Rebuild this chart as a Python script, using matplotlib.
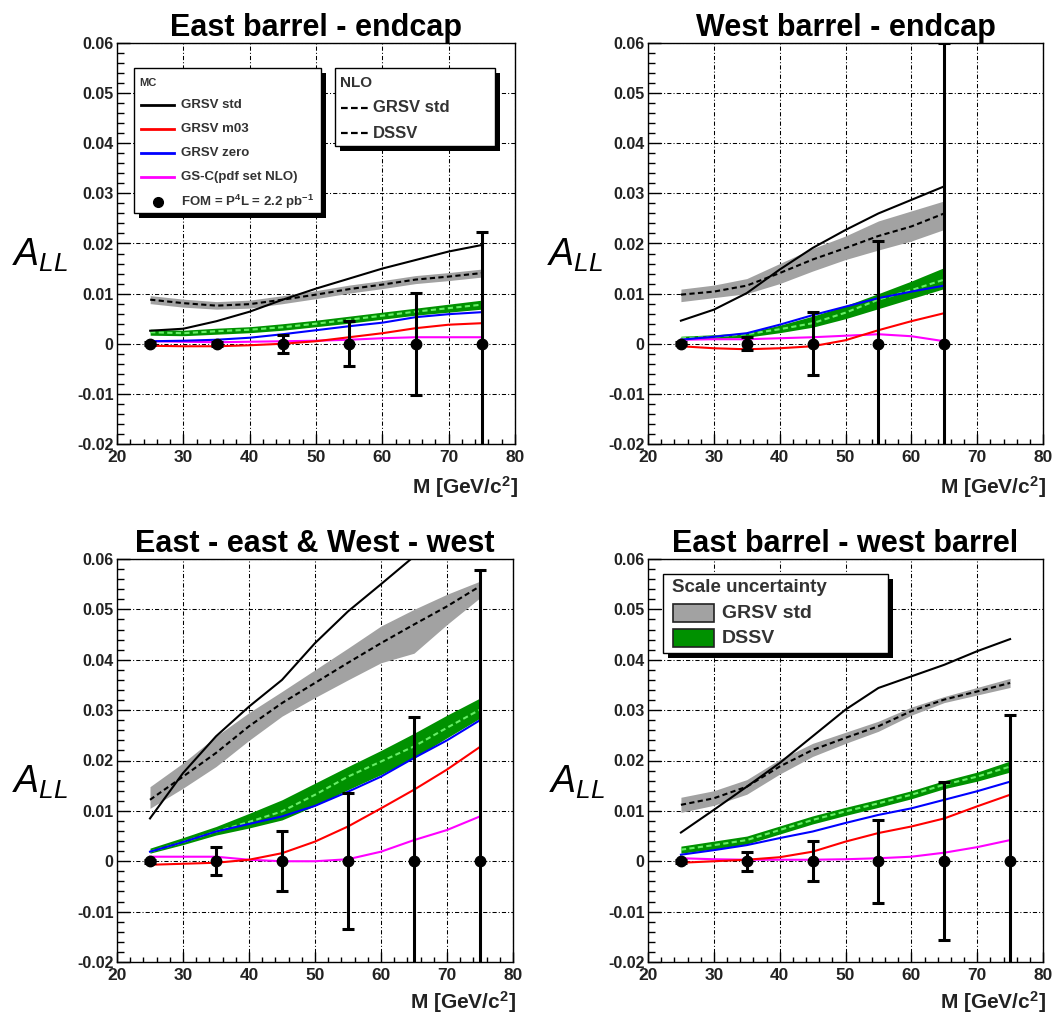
import numpy as np
import matplotlib
matplotlib.use("Agg")
import matplotlib.pyplot as plt
from matplotlib.patches import Rectangle
from matplotlib.lines import Line2D
from matplotlib.ticker import MultipleLocator, FuncFormatter

plt.rcParams['font.family'] = ['Liberation Sans', 'DejaVu Sans']
plt.rcParams['mathtext.fontset'] = 'custom'
plt.rcParams['mathtext.rm'] = 'Liberation Sans'
plt.rcParams['mathtext.it'] = 'Liberation Sans:italic'
plt.rcParams['mathtext.bf'] = 'Liberation Sans:bold'

W, H = 1063, 1016

# ---------------------------------------------------------------- data
titles = ["East barrel - endcap", "West barrel - endcap",
          "East - east & West - west", "East barrel - west barrel"]

# Panel 1: East barrel - endcap
m1 = [25, 30, 35, 40, 45, 50, 55, 60, 65, 70, 75]
std1 = [0.0026, 0.0030, 0.0045, 0.0064, 0.0088, 0.0110, 0.0130, 0.0150, 0.0167, 0.0184, 0.0197]
m03_1 = [-0.0004, -0.0005, -0.0005, -0.0003, 0.0000, 0.0005, 0.0013, 0.0021, 0.0031, 0.0038, 0.0041]
zero1 = [0.0005, 0.0006, 0.0008, 0.0012, 0.0019, 0.0027, 0.0035, 0.0042, 0.0053, 0.0059, 0.0063]
gsc1 = [0.0005, 0.0004, 0.0003, 0.0004, 0.0005, 0.0006, 0.0008, 0.0011, 0.0013, 0.0013, 0.0013]
nlo_grsv1 = [0.0088, 0.0081, 0.0076, 0.0079, 0.0088, 0.0098, 0.0109, 0.0118, 0.0128, 0.0134, 0.0141]
grsv_lo1 = [0.0080, 0.0073, 0.0069, 0.0071, 0.0080, 0.0090, 0.0101, 0.0110, 0.0120, 0.0126, 0.0133]
grsv_hi1 = [0.0096, 0.0089, 0.0084, 0.0087, 0.0096, 0.0106, 0.0117, 0.0126, 0.0136, 0.0142, 0.0149]
dssv1 = [0.0023, 0.0021, 0.0025, 0.0028, 0.0033, 0.0040, 0.0048, 0.0056, 0.0064, 0.0071, 0.0078]
dssv_lo1 = [0.0017, 0.0016, 0.0019, 0.0022, 0.0027, 0.0034, 0.0041, 0.0049, 0.0057, 0.0063, 0.0069]
dssv_hi1 = [0.0029, 0.0027, 0.0031, 0.0034, 0.0040, 0.0047, 0.0055, 0.0063, 0.0071, 0.0079, 0.0087]
pts1 = [25, 35, 45, 55, 65, 75]
fom1 = [0, 0, 0, 0, 0, 0]
err1 = [0.0003, 0.0004, 0.0018, 0.0045, 0.0102, 0.0222]

# Panel 2: West barrel - endcap
m2 = [25, 30, 35, 40, 45, 50, 55, 60, 65]
std2 = [0.0046, 0.0068, 0.0101, 0.0148, 0.0191, 0.0227, 0.0260, 0.0287, 0.0314]
m03_2 = [-0.0005, -0.0009, -0.0011, -0.0009, -0.0005, 0.0007, 0.0027, 0.0045, 0.0061]
zero2 = [0.0008, 0.0014, 0.0021, 0.0038, 0.0057, 0.0074, 0.0091, 0.0104, 0.0116]
gsc2 = [0.0008, 0.0009, 0.0009, 0.0011, 0.0013, 0.0016, 0.0019, 0.0015, 0.0005]
nlo_grsv2 = [0.0098, 0.0104, 0.0116, 0.0141, 0.0168, 0.0191, 0.0215, 0.0234, 0.0260]
grsv_lo2 = [0.0084, 0.0092, 0.0100, 0.0120, 0.0145, 0.0168, 0.0187, 0.0205, 0.0228]
grsv_hi2 = [0.0109, 0.0117, 0.0130, 0.0160, 0.0190, 0.0215, 0.0245, 0.0265, 0.0285]
dssv2 = [0.0011, 0.0014, 0.0019, 0.0029, 0.0041, 0.0062, 0.0088, 0.0107, 0.0128]
dssv_lo2 = [0.0008, 0.0010, 0.0013, 0.0022, 0.0033, 0.0050, 0.0070, 0.0090, 0.0110]
dssv_hi2 = [0.0015, 0.0018, 0.0022, 0.0037, 0.0055, 0.0076, 0.0100, 0.0125, 0.0152]
pts2 = [25, 35, 45, 55, 65]
fom2 = [0, 0, 0, 0, 0]
err2 = [0.0003, 0.0013, 0.0063, 0.0204, 0.0600]

# Panel 3: East - east & West - west
m3 = [25, 30, 35, 40, 45, 50, 55, 60, 65, 70, 75]
std3 = [0.0085, 0.0175, 0.0248, 0.0307, 0.0360, 0.0433, 0.0496, 0.0550, 0.0605, 0.0650, 0.0690]
m03_3 = [-0.0007, -0.0005, -0.0003, 0.0003, 0.0016, 0.0039, 0.0069, 0.0105, 0.0142, 0.0182, 0.0227]
zero3 = [0.0019, 0.0038, 0.0059, 0.0074, 0.0089, 0.0110, 0.0138, 0.0168, 0.0205, 0.0240, 0.0280]
gsc3 = [0.0009, 0.0009, 0.0009, 0.0003, 0.0000, 0.0000, 0.0004, 0.0019, 0.0042, 0.0062, 0.0089]
nlo_grsv3 = [0.0122, 0.0168, 0.0215, 0.0268, 0.0314, 0.0354, 0.0394, 0.0433, 0.0470, 0.0506, 0.0546]
grsv_lo3 = [0.0105, 0.0145, 0.0188, 0.0240, 0.0288, 0.0325, 0.0360, 0.0394, 0.0413, 0.0470, 0.0523]
grsv_hi3 = [0.0148, 0.0195, 0.0248, 0.0295, 0.0337, 0.0380, 0.0423, 0.0467, 0.0500, 0.0530, 0.0556]
dssv3 = [0.0019, 0.0038, 0.0059, 0.0078, 0.0099, 0.0132, 0.0168, 0.0198, 0.0228, 0.0265, 0.0301]
dssv_lo3 = [0.0016, 0.0033, 0.0052, 0.0066, 0.0082, 0.0110, 0.0142, 0.0172, 0.0205, 0.0245, 0.0284]
dssv_hi3 = [0.0026, 0.0047, 0.0069, 0.0095, 0.0122, 0.0155, 0.0188, 0.0220, 0.0254, 0.0290, 0.0324]
pts3 = [25, 35, 45, 55, 65, 75]
fom3 = [0, 0, 0, 0, 0, 0]
err3 = [0.0003, 0.0028, 0.0060, 0.0135, 0.0286, 0.0579]

# Panel 4: East barrel - west barrel
m4 = [25, 30, 35, 40, 45, 50, 55, 60, 65, 70, 75]
std4 = [0.0057, 0.0102, 0.0148, 0.0195, 0.0248, 0.0301, 0.0344, 0.0367, 0.0390, 0.0417, 0.0441]
m03_4 = [-0.0003, 0.0000, 0.0003, 0.0008, 0.0019, 0.0039, 0.0056, 0.0069, 0.0085, 0.0109, 0.0132]
zero4 = [0.0013, 0.0022, 0.0032, 0.0046, 0.0059, 0.0076, 0.0092, 0.0105, 0.0122, 0.0139, 0.0158]
gsc4 = [0.0006, 0.0004, 0.0003, 0.0003, 0.0003, 0.0004, 0.0006, 0.0009, 0.0017, 0.0028, 0.0042]
nlo_grsv4 = [0.0112, 0.0125, 0.0148, 0.0188, 0.0221, 0.0245, 0.0268, 0.0298, 0.0321, 0.0337, 0.0354]
grsv_lo4 = [0.0097, 0.0111, 0.0133, 0.0173, 0.0208, 0.0234, 0.0258, 0.0290, 0.0315, 0.0330, 0.0345]
grsv_hi4 = [0.0127, 0.0140, 0.0162, 0.0202, 0.0234, 0.0256, 0.0278, 0.0306, 0.0327, 0.0345, 0.0363]
dssv4 = [0.0023, 0.0032, 0.0042, 0.0062, 0.0082, 0.0099, 0.0115, 0.0132, 0.0152, 0.0168, 0.0188]
dssv_lo4 = [0.0016, 0.0024, 0.0034, 0.0054, 0.0074, 0.0091, 0.0107, 0.0124, 0.0144, 0.0159, 0.0177]
dssv_hi4 = [0.0030, 0.0040, 0.0050, 0.0070, 0.0090, 0.0107, 0.0123, 0.0140, 0.0160, 0.0177, 0.0199]
pts4 = [25, 35, 45, 55, 65, 75]
fom4 = [0, 0, 0, 0, 0, 0]
err4 = [0.0003, 0.0019, 0.0040, 0.0082, 0.0157, 0.0291]

panels = [
    (m1, std1, m03_1, zero1, gsc1, nlo_grsv1, grsv_lo1, grsv_hi1, dssv1, dssv_lo1, dssv_hi1, pts1, fom1, err1),
    (m2, std2, m03_2, zero2, gsc2, nlo_grsv2, grsv_lo2, grsv_hi2, dssv2, dssv_lo2, dssv_hi2, pts2, fom2, err2),
    (m3, std3, m03_3, zero3, gsc3, nlo_grsv3, grsv_lo3, grsv_hi3, dssv3, dssv_lo3, dssv_hi3, pts3, fom3, err3),
    (m4, std4, m03_4, zero4, gsc4, nlo_grsv4, grsv_lo4, grsv_hi4, dssv4, dssv_lo4, dssv_hi4, pts4, fom4, err4),
]

# ---------------------------------------------------------------- style
GRAY = '#a2a2a2'
GREEN = '#009100'
LIGHTGREEN = '#66ee66'
GRID_LS = (0, (4, 2, 1, 2))
DASH_LS = (0, (2.5, 1.6))

# axes boxes in pixels: left, right, top, bottom
boxes = [(117, 515, 43, 444), (648, 1043, 43, 444),
         (117, 513, 559, 962), (648, 1043, 559, 962)]
# y-label anchors (left, baseline) in pixels
ylab_pos = [(12, 266), (547, 266), (12, 793), (549, 793)]
# x-label baselines in pixels
xlab_base = [494, 494, 1009, 1009]

fig = plt.figure(figsize=(W / 100, H / 100), dpi=100)
fig.patch.set_facecolor('white')


def yfmt(v, _):
    if abs(v) < 1e-9:
        return '0'
    return f'{v:.2f}'


axes = []
for i, (l, r, t, b) in enumerate(boxes):
    ax = fig.add_axes([l / W, 1 - b / H, (r - l) / W, (b - t) / H])
    axes.append(ax)
    (m, std, m03, zero, gsc, ng, glo, ghi, ds, dlo, dhi, px, py, pe) = panels[i]

    ax.set_xlim(20, 80)
    ax.set_ylim(-0.02, 0.06)

    # scale uncertainty bands
    ax.fill_between(m, glo, ghi, color=GRAY, lw=0, zorder=2)
    ax.fill_between(m, dlo, dhi, color=GREEN, lw=0, zorder=2)
    ax.plot(m, ng, color='black', lw=1.5, ls=DASH_LS, zorder=3)
    ax.plot(m, ds, color=LIGHTGREEN, lw=1.5, ls=DASH_LS, zorder=3)

    # MC curves
    ax.plot(m, gsc, color='#ff00ff', lw=1.5, zorder=4)
    ax.plot(m, m03, color='#ff0000', lw=1.5, zorder=4)
    ax.plot(m, zero, color='#0000ff', lw=1.5, zorder=4)
    ax.plot(m, std, color='black', lw=1.5, zorder=4)

    # projected statistical uncertainties
    ax.errorbar(px, py, yerr=pe, fmt='o', color='black', ms=7.5,
                elinewidth=2.2, capsize=4.2, capthick=2.2, zorder=6)

    # axes frame, ticks, grid
    for s in ax.spines.values():
        s.set_linewidth(1.0)
    ax.xaxis.set_major_locator(MultipleLocator(10))
    ax.xaxis.set_minor_locator(MultipleLocator(2))
    ax.yaxis.set_major_locator(MultipleLocator(0.01))
    ax.yaxis.set_minor_locator(MultipleLocator(0.002))
    ax.yaxis.set_major_formatter(FuncFormatter(yfmt))
    ax.tick_params(axis='both', which='both', direction='in', top=False, right=False,
                   width=1.0)
    ax.tick_params(axis='y', which='major', length=9, pad=2.5, labelsize=11.5)
    ax.tick_params(axis='y', which='minor', length=4.8)
    ax.tick_params(axis='x', which='major', length=7, pad=4, labelsize=12.5)
    ax.tick_params(axis='x', which='minor', length=3.7)
    for lab in ax.get_xticklabels() + ax.get_yticklabels():
        lab.set_fontweight('bold')
        lab.set_color('#222222')
    ax.grid(True, which='major', color='black', lw=0.75, ls=GRID_LS, zorder=1)
    ax.set_axisbelow(True)

    ax.set_title(titles[i], fontsize=22, fontweight='bold', pad=5)

# ---------------------------------------------------------------- overlay in pixel units
ov = fig.add_axes([0, 0, 1, 1])
ov.set_xlim(0, W)
ov.set_ylim(H, 0)
ov.axis('off')
ov.patch.set_alpha(0)
ov.set_zorder(20)

for i, (l, r, t, b) in enumerate(boxes):
    xl, yl = ylab_pos[i]
    ov.text(xl, yl, r'$\mathit{A}_{\mathit{LL}}$', fontsize=27, ha='left', va='baseline')
    ov.text(r + 3, xlab_base[i], r'M [GeV/c$^{\mathbf{2}}$]', fontsize=15,
            fontweight='bold', ha='right', va='baseline', color='#222222')


def shadow_box(l, t, r, b, off=5):
    ov.add_patch(Rectangle((l + off, t + off), r - l, b - t, facecolor='black',
                           edgecolor='none', zorder=1))
    ov.add_patch(Rectangle((l, t), r - l, b - t, facecolor='white',
                           edgecolor='black', lw=1.0, zorder=2))


# MC legend (panel 1)
shadow_box(134, 68, 321, 213)
ov.text(139, 83, 'MC', fontsize=8, fontweight='bold', va='center', ha='left',
        color='#333333', zorder=3)
mc_entries = [('black', 'GRSV std', 105), ('#ff0000', 'GRSV m03', 129),
              ('#0000ff', 'GRSV zero', 153), ('#ff00ff', 'GS-C(pdf set NLO)', 177)]
for col, lab, y in mc_entries:
    ov.add_line(Line2D([141, 174], [y, y], color=col, lw=2, zorder=3))
    ov.text(181, y, lab, fontsize=9.5, fontweight='bold', va='center', ha='left',
            color='#333333', zorder=3)
ov.plot([158], [202], 'o', color='black', ms=7, zorder=3)
ov.text(181, 202, r'FOM = P$^{\mathbf{4}}$L = 2.2 pb$^{\mathbf{-1}}$', fontsize=9.5,
        fontweight='bold', va='center', ha='left', color='#333333', zorder=3)

# NLO legend (panel 1)
shadow_box(335, 68, 495, 146)
ov.text(340, 83, 'NLO', fontsize=11, fontweight='bold', va='center', ha='left',
        color='#333333', zorder=3)
for lab, y in [('GRSV std', 108), ('DSSV', 133)]:
    ov.add_line(Line2D([341, 371], [y, y], color='black', lw=1.6, ls=(0, (3, 1.5)), zorder=3))
    ov.text(373, y, lab, fontsize=12, fontweight='bold', va='center', ha='left',
            color='#333333', zorder=3)

# Scale uncertainty legend (panel 4)
shadow_box(663, 574, 888, 653)
ov.text(672, 587, 'Scale uncertainty', fontsize=13.5, fontweight='bold', va='center',
        ha='left', color='#333333', zorder=3)
for col, lab, y0, y1 in [(GRAY, 'GRSV std', 604, 622), (GREEN, 'DSSV', 629, 647)]:
    ov.add_patch(Rectangle((673, y0), 41, y1 - y0, facecolor=col, edgecolor='#222222',
                           lw=1.2, zorder=3))
    ov.text(722, (y0 + y1) / 2 + 0.5, lab, fontsize=14, fontweight='bold', va='center',
            ha='left', color='#333333', zorder=3)

fig.savefig('out.png', dpi=100, facecolor='white')
